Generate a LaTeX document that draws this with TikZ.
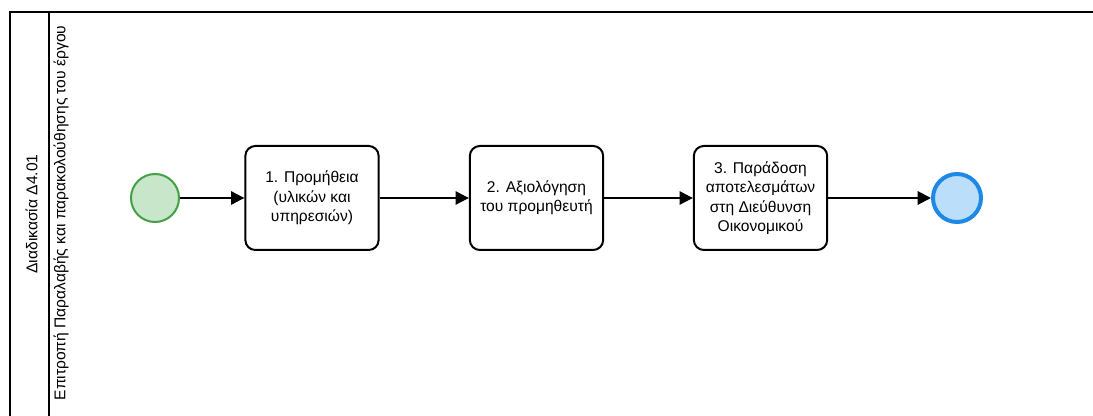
\documentclass[tikz,border=0pt]{standalone}
\usepackage{fontspec}
\setmainfont{Liberation Sans}
\usetikzlibrary{arrows.meta}
\definecolor{startfill}{HTML}{C8E6C9}
\definecolor{startline}{HTML}{43A047}
\definecolor{endfill}{HTML}{BBDEFB}
\definecolor{endline}{HTML}{1E88E5}
\tikzset{
  task/.style={draw=black, line width=1.5pt, rounded corners=7.5pt, fill=white,
    minimum width=100pt, minimum height=78pt, align=center, font=\fontsize{11.7}{14.6}\selectfont},
  startevent/.style={circle, draw=startline, line width=1.5pt, fill=startfill, minimum size=36pt, inner sep=0pt},
  endevent/.style={circle, draw=endline, line width=3pt, fill=endfill, minimum size=36pt, inner sep=0pt},
  flow/.style={line width=1.5pt, -{Triangle[length=10pt,width=10pt]}},
  frame/.style={line width=1.5pt},
  label/.style={rotate=90, font=\fontsize{11.7}{14}\selectfont}
}
\begin{document}
\begin{tikzpicture}[x=0.75pt,y=-0.75pt]
\useasboundingbox (0,0) rectangle (1093,416);
% pool frame, running past the page edges
\begin{scope}
\clip (0,0) rectangle (1093,416);
\draw[frame] (10,440) -- (10,12.5) -- (1110,12.5);
\draw[frame] (49,12.5) -- (49,440);
\end{scope}
\node[label] (pool) at (31.5,214) {Διαδικασία Δ4.01};
\node[label] (lane) at (61,213) {Επιτροπή Παραλαβής και παρακολούθησης του έργου};
% process
\node[startevent] (s) at (155,198) {};
\node[task] (t1) at (312,198) {1. Προμήθεια\\(υλικών και\\υπηρεσιών)};
\node[task] (t2) at (536.5,198) {2. Αξιολόγηση\\του προμηθευτή};
\node[task] (t3) at (760.5,198) {3. Παράδοση\\αποτελεσμάτων\\στη Διεύθυνση\\Οικονομικού};
\node[endevent] (e) at (957,198) {};
\draw[flow] (s) -- (t1);
\draw[flow] (t1) -- (t2);
\draw[flow] (t2) -- (t3);
\draw[flow] (t3) -- (e);
\end{tikzpicture}
\end{document}
